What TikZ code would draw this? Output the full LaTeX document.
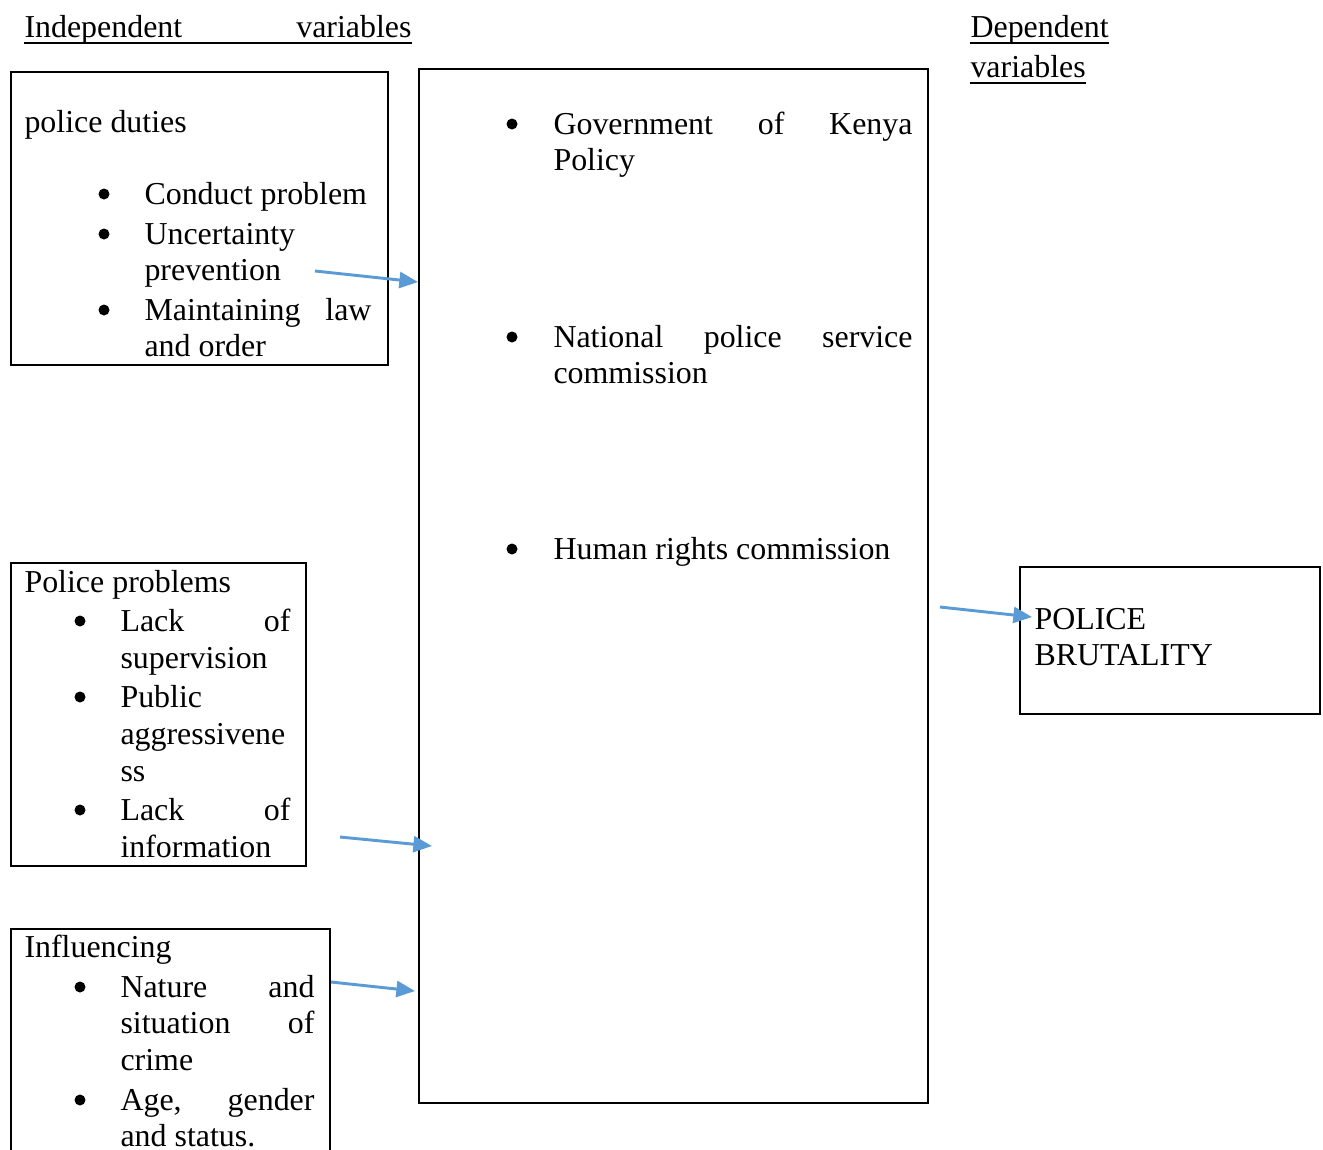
\documentclass[tikz,border=0pt]{standalone}
\usepackage{fontspec}
\setmainfont{Liberation Serif}
\usetikzlibrary{arrows.meta}
\newlength\pxu
\setlength\pxu{0.376pt}
\definecolor{arrowblue}{HTML}{5B9BD5}

\begin{document}
\begin{tikzpicture}
[
x=0.376pt,y=-0.376pt,
every node/.style={font=\fontsize{12}{14}\selectfont},
box/.style 2 args={draw,line width=0.75pt,anchor=north west,inner sep=0pt,minimum width=#1\pxu,minimum height=#2\pxu},
txt/.style={anchor=base west,inner sep=0pt},
bul/.style={circle,fill,inner sep=0pt,minimum size=11\pxu,yshift=10\pxu},
uline/.style={line width=0.75pt},
amark/.style={draw=arrowblue,line width=1.1pt,-{Triangle[length=7pt,width=6pt]}},
]
\useasboundingbox (0,0) rectangle (1323,1149);
\clip (0,0) rectangle (1323,1149);

%Place the boxes
\node[box={377}{293}] (duties) at (10,71) {};
\node[box={509}{1034}] (bodies) at (418,68) {};
\node[box={295}{303}] (problems) at (10,562) {};
\node[box={319}{260}] (influence) at (10,928) {};
\node[box={300}{147}] (brutality) at (1019,566) {};

%Headings
\node[txt] (indep) at (24,37) {\makebox[387\pxu][s]{Independent variables}};
\node[txt] (dep) at (970,37) {Dependent};
\node[txt] (depb) at (970,77) {variables};
\draw[uline] ([yshift=-2.2pt]indep.base west) -- ([yshift=-2.2pt]indep.base east);
\draw[uline] ([yshift=-2.2pt]dep.base west) -- ([yshift=-2.2pt]dep.base east);
\draw[uline] ([yshift=-2.2pt]depb.base west) -- ([yshift=-2.2pt]depb.base east);

%police duties
\node[txt] (d0) at (24,132) {police duties};
\node[bul] (db1) at (104,204) {};
\node[txt] (d1) at (144,204) {Conduct problem};
\node[bul] (db2) at (104,244) {};
\node[txt] (d2) at (144,244) {Uncertainty};
\node[txt] (d3) at (144,280) {prevention};
\node[bul] (db3) at (104,320) {};
\node[txt] (d4) at (144,320) {\makebox[227\pxu][s]{Maintaining law}};
\node[txt] (d5) at (144,356) {and order};

%middle box
\node[bul] (mb1) at (512,134) {};
\node[txt] (m1) at (553,134) {\makebox[359\pxu][s]{Government of Kenya}};
\node[txt] (m2) at (553,170) {Policy};
\node[bul] (mb2) at (512,347) {};
\node[txt] (m3) at (553,347) {\makebox[359\pxu][s]{National police service}};
\node[txt] (m4) at (553,383) {commission};
\node[bul] (mb3) at (512,559) {};
\node[txt] (m5) at (553,559) {Human rights commission};

%Police problems
\node[txt] (p0) at (24,592) {Police problems};
\node[bul] (pb1) at (80,631) {};
\node[txt] (p1) at (120,631) {\makebox[170\pxu][s]{Lack of}};
\node[txt] (p2) at (120,668) {supervision};
\node[bul] (pb2) at (80,707) {};
\node[txt] (p3) at (120,707) {Public};
\node[txt] (p4) at (120,744) {aggressivene};
\node[txt] (p5) at (120,781) {ss};
\node[bul] (pb3) at (80,820) {};
\node[txt] (p6) at (120,820) {\makebox[170\pxu][s]{Lack of}};
\node[txt] (p7) at (120,857) {information};

%Influencing
\node[txt] (i0) at (24,957) {Influencing};
\node[bul] (ib1) at (80,997) {};
\node[txt] (i1) at (120,997) {\makebox[194\pxu][s]{Nature and}};
\node[txt] (i2) at (120,1033) {\makebox[194\pxu][s]{situation of}};
\node[txt] (i3) at (120,1070) {crime};
\node[bul] (ib2) at (80,1110) {};
\node[txt] (i4) at (120,1110) {\makebox[194\pxu][s]{Age, gender}};
\node[txt] (i5) at (120,1146) {and status.};

%POLICE BRUTALITY
\node[txt] (b1) at (1034,629) {POLICE};
\node[txt] (b2) at (1034,665) {BRUTALITY};

%Arrow ends
\coordinate (s1) at (315,271);
\coordinate (e1) at (418,282);
\coordinate (s2) at (340,837);
\coordinate (e2) at (432,846);
\coordinate (s3) at (331,982);
\coordinate (e3) at (415,991);
\coordinate (s4) at (940,607);
\coordinate (e4) at (1032,617);

%Draw the connections
\draw[amark] (s1) -- (e1);
\draw[amark] (s2) -- (e2);
\draw[amark] (s3) -- (e3);
\draw[amark] (s4) -- (e4);
\end{tikzpicture}
\end{document}
